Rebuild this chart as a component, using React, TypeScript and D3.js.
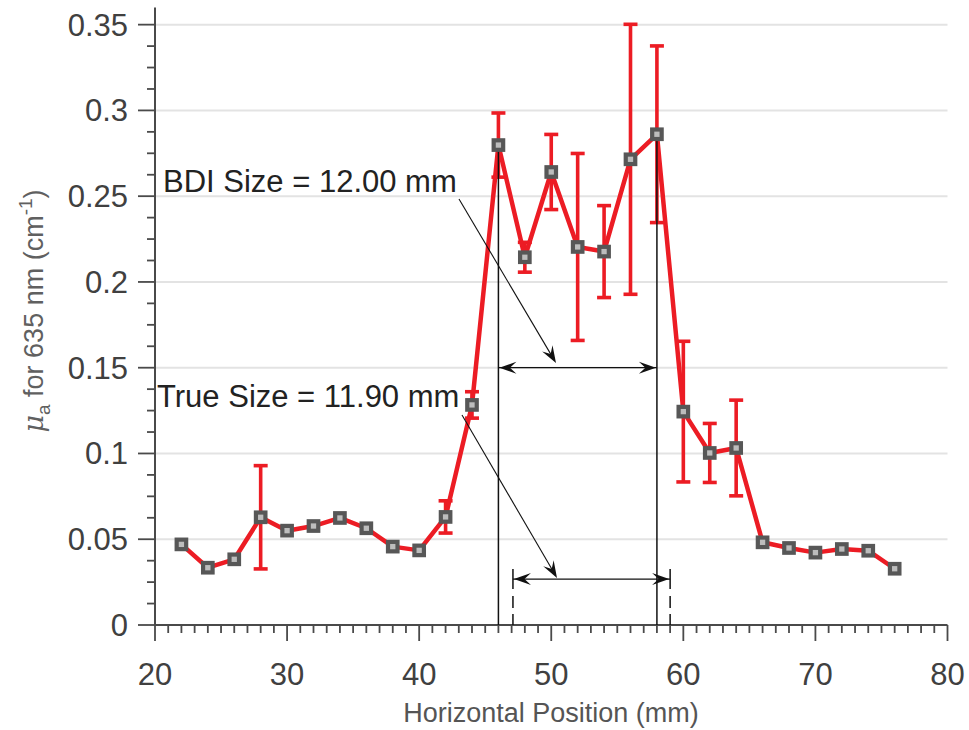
import React from "react";
import * as d3 from "d3";

const positions = [22, 24, 26, 28, 30, 32, 34, 36, 38, 40, 42, 44, 46, 48, 50, 52, 54, 56, 58, 60, 62, 64, 66, 68, 70, 72, 74, 76];
const muA = [0.047, 0.0334, 0.0383, 0.0628, 0.055, 0.0577, 0.0624, 0.0564, 0.0457, 0.0435, 0.063, 0.1283, 0.2798, 0.2144, 0.2641, 0.2204, 0.2177, 0.2715, 0.2861, 0.1244, 0.1003, 0.1032, 0.0482, 0.0449, 0.0422, 0.0443, 0.0433, 0.0328];
const muErr = [0, 0, 0, 0.0301, 0, 0, 0, 0, 0, 0, 0.0094, 0.0077, 0.0187, 0.0087, 0.0219, 0.0545, 0.0268, 0.0787, 0.0515, 0.041, 0.0172, 0.0279, 0, 0, 0, 0, 0, 0];
const xTicks = [20, 30, 40, 50, 60, 70, 80];
const yTicks = [0, 0.05, 0.1, 0.15, 0.2, 0.25, 0.3, 0.35];
const yTickLabels = ["0", "0.05", "0.1", "0.15", "0.2", "0.25", "0.3", "0.35"];
const bdiEdges = [46, 58];
const bdiLevel = 0.15;
const trueEdges = [47.1, 59.0];
const trueLevel = 0.0268;
const bdiLabel = "BDI Size = 12.00 mm";
const trueLabel = "True Size = 11.90 mm";

const W = 969;
const H = 730;
const x = d3.scaleLinear().domain([20, 80]).range([155, 947.5]);
const y = d3.scaleLinear().domain([0, 0.36]).range([625, 7.5]);

const RED = "#ec1c24";
const AX = "#4a4a4a";
const FONT = "'Liberation Sans', Arial, Helvetica, sans-serif";

function arrowHead(tx: number, ty: number, angle: number, L = 17, Wd = 12) {
  const c = Math.cos(angle), s = Math.sin(angle);
  const pt = (a: number, b: number) => [tx + a * c - b * s, ty + a * s + b * c];
  const p1 = pt(-L, -Wd / 2);
  const p2 = pt(-L * 0.62, 0);
  const p3 = pt(-L, Wd / 2);
  return `M${tx},${ty}L${p1[0]},${p1[1]}L${p2[0]},${p2[1]}L${p3[0]},${p3[1]}Z`;
}

export default function App() {
  const pts = positions.map((p, i) => ({ p, v: muA[i], e: muErr[i] }));
  const line = d3.line<{ p: number; v: number }>().x((d) => x(d.p)).y((d) => y(d.v));
  const xMinor = d3.range(20, 81, 1);
  const yMinor = d3.range(0, 0.36, 0.0125);

  const bL = x(bdiEdges[0]), bR = x(bdiEdges[1]), bY = y(bdiLevel);
  const tL = x(trueEdges[0]), tR = x(trueEdges[1]), tY = y(trueLevel);

  const p1 = { x0: 459, y0: 199, x1: 556, y1: 363 };
  const p2 = { x0: 462, y0: 415, x1: 557, y1: 578 };
  const a1 = Math.atan2(p1.y1 - p1.y0, p1.x1 - p1.x0);
  const a2 = Math.atan2(p2.y1 - p2.y0, p2.x1 - p2.x0);

  return (
    <svg width={W} height={H} style={{ position: "absolute", left: 0, top: 0, background: "#fff" }} fontFamily={FONT}>
      {yTicks.slice(1).map((t) => (
        <line key={"g" + t} x1={x(20)} x2={x(80)} y1={y(t)} y2={y(t)} stroke="#e3e3e3" strokeWidth={2} />
      ))}
      <line x1={x(20)} x2={x(80)} y1={y(0)} y2={y(0)} stroke={AX} strokeWidth={2} />
      <line x1={x(20)} x2={x(20)} y1={y(0)} y2={y(0.36)} stroke={AX} strokeWidth={2} />
      {xMinor.map((t) => (
        <line key={"xm" + t} x1={x(t)} x2={x(t)} y1={y(0)} y2={y(0) + (t % 10 === 0 ? 16 : 8)} stroke={AX} strokeWidth={1.8} />
      ))}
      {yMinor.map((t, i) => (
        <line key={"ym" + i} x1={x(20)} x2={x(20) - (i % 4 === 0 ? 17 : 8)} y1={y(t)} y2={y(t)} stroke={AX} strokeWidth={1.8} />
      ))}
      {xTicks.map((t) => (
        <text key={"xl" + t} x={x(t)} y={685} textAnchor="middle" fontSize={31} fill="#404040">{t}</text>
      ))}
      {yTicks.map((t, i) => (
        <text key={"yl" + t} x={128} y={y(t) + 11} textAnchor="end" fontSize={31} fill="#404040">{yTickLabels[i]}</text>
      ))}
      <text x={551} y={722} textAnchor="middle" fontSize={27} fill="#555">Horizontal Position (mm)</text>
      <text transform="translate(43,311) rotate(-90)" textAnchor="middle" fontSize={27} fill="#606060">
        <tspan fontStyle="italic" fontFamily="'DejaVu Serif', serif">μ</tspan>
        <tspan fontSize={19} dy={7}>a</tspan>
        <tspan dy={-7}> for 635 nm (cm</tspan>
        <tspan fontSize={19} dy={-11}>-1</tspan>
        <tspan dy={11}>)</tspan>
      </text>

      {trueEdges.map((e) => (
        <g key={"d" + e}>
          <line x1={x(e)} x2={x(e)} y1={tY - 10} y2={tY + 10} stroke="#111" strokeWidth={1.5} />
          <line x1={x(e)} x2={x(e)} y1={tY + 17} y2={y(0)} stroke="#111" strokeWidth={1.5} strokeDasharray="12,6" />
        </g>
      ))}

      {pts.filter((d) => d.e > 0).map((d) => (
        <g key={"e" + d.p} stroke={RED} strokeWidth={3.6}>
          <line x1={x(d.p)} x2={x(d.p)} y1={y(d.v + d.e)} y2={y(d.v - d.e)} />
          <line x1={x(d.p) - 7} x2={x(d.p) + 7} y1={y(d.v + d.e)} y2={y(d.v + d.e)} />
          <line x1={x(d.p) - 7} x2={x(d.p) + 7} y1={y(d.v - d.e)} y2={y(d.v - d.e)} />
        </g>
      ))}
      <path d={line(pts) || ""} fill="none" stroke={RED} strokeWidth={4.5} strokeLinejoin="round" />
      {bdiEdges.map((e) => {
        const i = positions.indexOf(e);
        return <line key={"v2" + e} x1={x(e)} x2={x(e)} y1={y(muA[i])} y2={y(0)} stroke="#111" strokeWidth={1.5} />;
      })}
      {pts.map((d) => (
        <rect key={"m" + d.p} x={x(d.p) - 4.75} y={y(d.v) - 4.75} width={9.5} height={9.5} fill="#bdbdbd" stroke="#575757" strokeWidth={4.2} />
      ))}

      <line x1={bL} x2={bR} y1={bY} y2={bY} stroke="#111" strokeWidth={1.3} />
      <path d={arrowHead(bL + 1, bY, Math.PI)} fill="#111" />
      <path d={arrowHead(bR - 1, bY, 0)} fill="#111" />
      <line x1={tL} x2={tR} y1={tY} y2={tY} stroke="#111" strokeWidth={1.3} />
      <path d={arrowHead(tL + 1, tY, Math.PI)} fill="#111" />
      <path d={arrowHead(tR - 1, tY, 0)} fill="#111" />

      <line x1={p1.x0} y1={p1.y0} x2={p1.x1 - 8 * Math.cos(a1)} y2={p1.y1 - 8 * Math.sin(a1)} stroke="#111" strokeWidth={1.1} />
      <path d={arrowHead(p1.x1, p1.y1, a1)} fill="#111" />
      <line x1={p2.x0} y1={p2.y0} x2={p2.x1 - 8 * Math.cos(a2)} y2={p2.y1 - 8 * Math.sin(a2)} stroke="#111" strokeWidth={1.1} />
      <path d={arrowHead(p2.x1, p2.y1, a2)} fill="#111" />

      <text x={163} y={192} fontSize={31} fill="#222">{bdiLabel}</text>
      <text x={157} y={407} fontSize={31} fill="#222">{trueLabel}</text>
    </svg>
  );
}
